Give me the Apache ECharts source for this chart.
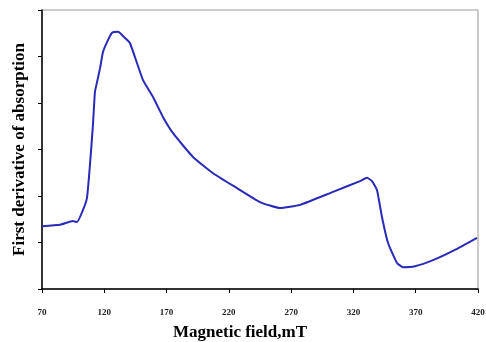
<!DOCTYPE html>
<html>
<head>
<meta charset="utf-8">
<script src="https://cdn.jsdelivr.net/npm/echarts@6/dist/echarts.min.js"></script>
<style>
  html, body { margin: 0; padding: 0; background: #fff; }
  #main { width: 486px; height: 342px; }
</style>
</head>
<body>
<div id="main"></div>
<script>
// magnetic field (mT) and first derivative signal (arbitrary units)
const field = [70, 84.4, 94.9, 98.1, 102.9, 106.1, 108.5, 110.9, 112.5, 114.2, 116.6, 119, 122.2, 126.2, 131, 136.6, 140.6, 151.1, 159.1, 167.1, 175.2, 191.2, 207.3, 226.5, 245, 261.1, 277.1, 303.6, 325.3, 330.9, 334.9, 338.9, 342.9, 347.8, 355, 359.8, 369.4, 383.9, 401.5, 419.2]
const signal = [1.35, 1.38, 1.46, 1.44, 1.70, 1.96, 2.67, 3.53, 4.24, 4.45, 4.75, 5.10, 5.31, 5.51, 5.53, 5.40, 5.29, 4.49, 4.13, 3.70, 3.35, 2.84, 2.49, 2.17, 1.87, 1.74, 1.81, 2.09, 2.32, 2.39, 2.32, 2.13, 1.55, 0.99, 0.56, 0.47, 0.49, 0.62, 0.84, 1.10]
const xTicks = [70, 120, 170, 220, 270, 320, 370, 420]

let myChart = echarts.init(document.getElementById('main'))
let option = {
  animation: false,
  grid: {
    left: 42,
    right: 8,
    top: 10,
    bottom: 53,
    outerBoundsMode: 'none',
    containLabel: false,
    show: true,
    borderColor: '#999',
    borderWidth: 1
  },
  xAxis: {
    type: 'value',
    min: 70,
    max: 420,
    interval: 50,
    name: 'Magnetic field,mT',
    nameLocation: 'middle',
    nameGap: 35,
    nameTextStyle: {
      fontFamily: 'Liberation Serif',
      fontWeight: 'bold',
      fontSize: 17,
      color: '#000',
      padding: [0, 40, 0, 0]
    },
    axisLine: { lineStyle: { color: '#000', width: 1.5 } },
    axisTick: { length: 4, lineStyle: { color: '#000' } },
    axisLabel: {
      fontFamily: 'Liberation Serif',
      fontWeight: 'bold',
      fontSize: 9,
      color: '#222',
      margin: 19,
      formatter: (v) => xTicks.includes(v) ? String(v) : ''
    },
    splitLine: { show: false }
  },
  yAxis: {
    type: 'value',
    min: 0,
    max: 6,
    interval: 1,
    name: 'First derivative of absorption',
    nameLocation: 'middle',
    nameGap: 14,
    nameTextStyle: {
      fontFamily: 'Liberation Serif',
      fontWeight: 'bold',
      fontSize: 17,
      color: '#000'
    },
    axisLine: { show: true, lineStyle: { color: '#000', width: 1.5 } },
    axisTick: { show: true, length: 4, lineStyle: { color: '#000' } },
    axisLabel: { show: false },
    splitLine: { show: false }
  },
  series: [
    {
      type: 'line',
      data: field.map((x, i) => [x, signal[i]]),
      showSymbol: false,
      smooth: 0.15,
      lineStyle: { color: '#2a2ab8', width: 2 }
    }
  ]
}
myChart.setOption(option)
</script>
</body>
</html>
